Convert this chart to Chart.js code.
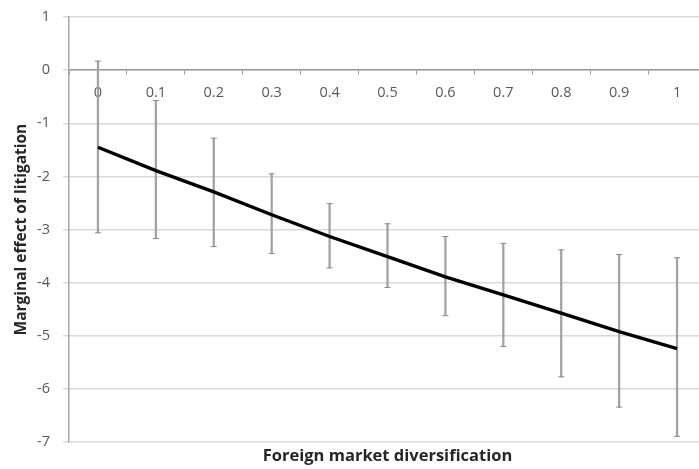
<!DOCTYPE html>
<html>
<head>
<meta charset="utf-8">
<script src="https://cdn.jsdelivr.net/npm/chart.js@4/dist/chart.umd.min.js"></script>
<style>
  html, body { margin: 0; padding: 0; background: #fff; overflow: hidden; }
  #wrap { position: relative; width: 712px; height: 469px; }
</style>
</head>
<body>
<div id="wrap"><canvas id="chart" width="712" height="469"></canvas></div>
<script>
"use strict";

// x categories (foreign market diversification)
var categories = ['0', '0.1', '0.2', '0.3', '0.4', '0.5', '0.6', '0.7', '0.8', '0.9', '1'];
// marginal effect of litigation
var effect = [-1.45, -1.89, -2.29, -2.72, -3.13, -3.51, -3.89, -4.23, -4.57, -4.92, -5.24];
// confidence interval ends
var upper = [0.17, -0.57, -1.28, -1.95, -2.51, -2.89, -3.13, -3.26, -3.38, -3.47, -3.53];
var lower = [-3.06, -3.17, -3.32, -3.45, -3.72, -4.09, -4.62, -5.20, -5.77, -6.34, -6.89];
var yTicks = [1, 0, -1, -2, -3, -4, -5, -6, -7];

var labelFont = { family: '"Open Sans", Lato, sans-serif', size: 14.5 };
var titleFont = { family: '"Open Sans", Lato, sans-serif', size: 16.5, weight: 'bold' };
var yTitleFont = { family: '"Open Sans", Lato, sans-serif', size: 15.5, weight: 'bold' };
var barColor = '#a2a2a2';

//stems of the error bars as thin floating bars
var stems = categories.map(function(c, i) { return [lower[i], upper[i]]; });

var ctx = document.getElementById('chart');
var myChart = new Chart(ctx, {
    data: {
        labels: categories,
        datasets: [
            {
                type: 'line',
                data: effect,
                borderColor: '#000',
                borderWidth: 3.4,
                pointRadius: 0,
                fill: false,
                order: 0
            },
            {
                type: 'line',
                data: upper,
                showLine: false,
                pointStyle: 'line',
                pointRadius: 3,
                pointBorderWidth: 1,
                pointBorderColor: '#8a8a8a',
                order: 1
            },
            {
                type: 'line',
                data: lower,
                showLine: false,
                pointStyle: 'line',
                pointRadius: 3,
                pointBorderWidth: 1,
                pointBorderColor: '#8a8a8a',
                order: 1
            },
            {
                type: 'bar',
                data: stems,
                backgroundColor: barColor,
                barThickness: 1.6,
                order: 2
            }
        ]
    },
    options: {
        responsive: false,
        animation: false,
        layout: { padding: { top: 17, right: 6, bottom: 3, left: 0 } },
        plugins: {
            legend: { display: false },
            tooltip: { enabled: false }
        },
        scales: {
            x: {
                type: 'category',
                position: { y: 0 },
                offset: true,
                // sits inside the plot at y = 0, so it takes no room in the layout
                afterFit: function(axis) {
                    axis.height = 0;
                },
                grid: {
                    drawOnChartArea: false,
                    offset: true,
                    tickLength: 4,
                    color: '#9a9a9a'
                },
                border: { color: '#9a9a9a', width: 1.5 },
                ticks: {
                    color: '#595959',
                    font: labelFont,
                    padding: 10,
                    maxRotation: 0
                }
            },
            // bottom axis only carries the title, centred under the plot
            x2: {
                type: 'category',
                position: 'bottom',
                offset: true,
                grid: { display: false, drawTicks: false },
                border: { display: false },
                ticks: { display: false },
                title: {
                    display: true,
                    text: 'Foreign market diversification',
                    color: '#262626',
                    font: titleFont,
                    padding: { top: 4, bottom: 0 }
                }
            },
            y: {
                min: -7,
                max: 1,
                afterBuildTicks: function(axis) {
                    axis.ticks = yTicks.map(function(v) { return { value: v }; });
                },
                // fixed width, and let the layout padding alone set the top and bottom
                afterFit: function(axis) {
                    axis.width = 69;
                    axis.paddingTop = 0;
                    axis.paddingBottom = 0;
                },
                grid: {
                    color: '#d9d9d9',
                    lineWidth: 1.5,
                    tickLength: 6
                },
                border: { color: '#a6a6a6', width: 1.5 },
                ticks: {
                    color: '#595959',
                    font: labelFont,
                    padding: 13
                },
                title: {
                    display: true,
                    text: 'Marginal effect of litigation',
                    color: '#262626',
                    font: yTitleFont,
                    padding: { top: 12, bottom: 0 }
                }
            }
        }
    }
});
</script>
</body>
</html>
